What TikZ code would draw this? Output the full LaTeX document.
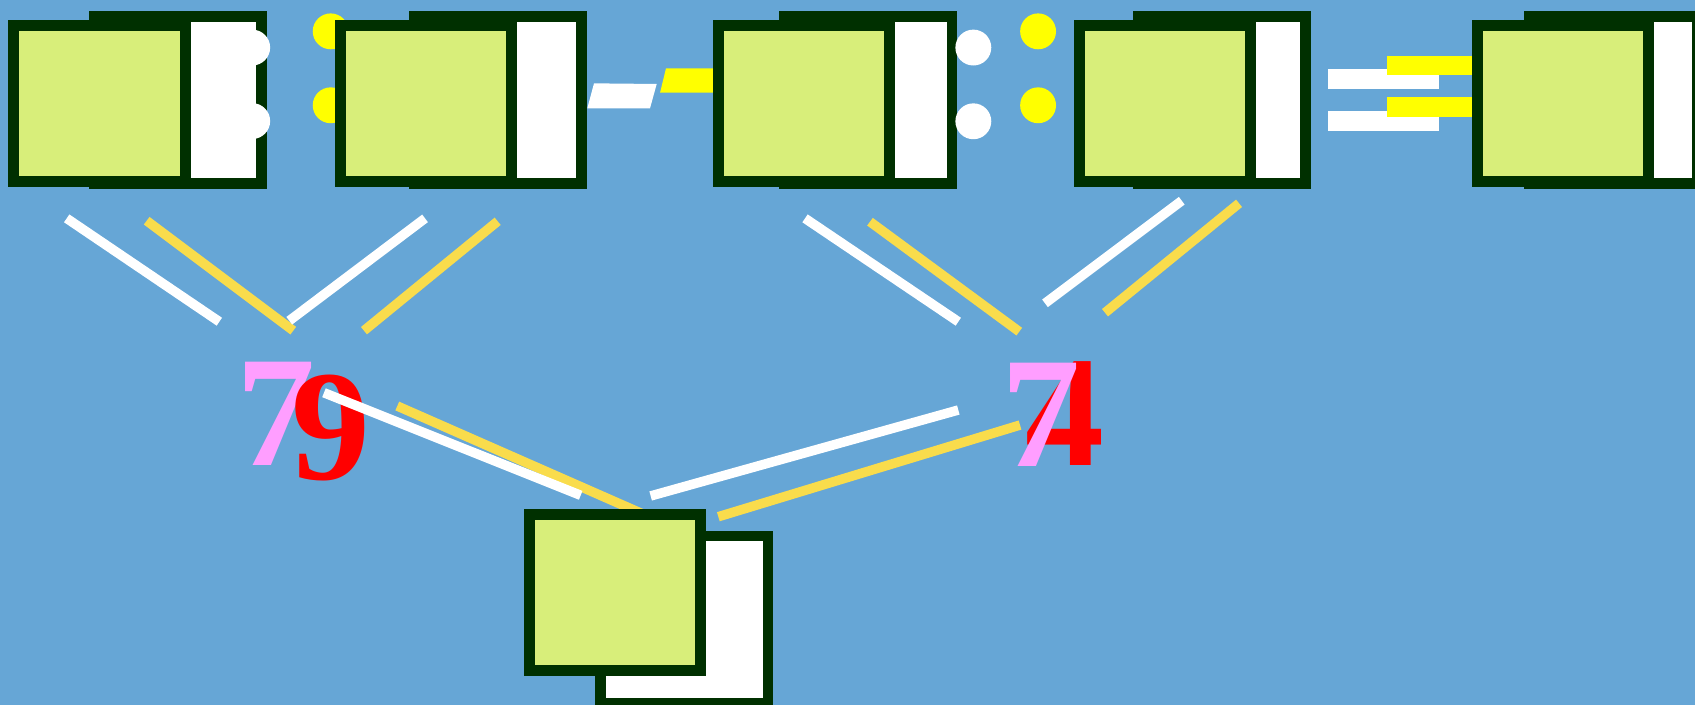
\documentclass[tikz,border=0pt]{standalone}
\usepackage{fontspec}
\setmainfont{Liberation Serif}
\definecolor{sky}{HTML}{66A6D6}
\definecolor{boxline}{HTML}{003000}
\definecolor{boxfill}{HTML}{D8EE7A}
\definecolor{dotyellow}{HTML}{FFFF00}
\definecolor{gold}{HTML}{F9DC4C}
\definecolor{pinkdigit}{HTML}{FF9EFF}
\begin{document}
\begin{tikzpicture}[x=0.5pt, y=-0.5pt,
  front/.style={draw=boxline, line width=5pt, fill=boxfill, minimum width=79.25pt, minimum height=72.35pt, inner sep=0pt},
  back/.style={draw=boxline, line width=5pt, fill=white, minimum width=77.5pt, minimum height=77.25pt, inner sep=0pt},
  dot/.style={circle, inner sep=0pt, minimum size=16.6pt},
  bar/.style={inner sep=0pt, minimum width=51.15pt, minimum height=9.1pt},
  digit/.style={inner sep=0pt, anchor=base west, font=\fontsize{73}{80}\selectfont\bfseries},
  wire/.style={line width=4.4pt, white},
  goldwire/.style={line width=4.4pt, gold}]

  % background
  \fill[sky] (0,0) rectangle (1568,652);
  \useasboundingbox (0,0) rectangle (1568,652);

  % First box and colon
  \node[back] (B1) at (164.6,92.45) {};
  \node[front] (F1) at (92.05,95.85) {};
  \node[dot, fill=white] (c1) at (233.3,44) {};
  \node[dot, fill=white] (c2) at (233.3,112) {};
  \node[dot, fill=dotyellow] (c3) at (305.9,29) {};
  \node[dot, fill=dotyellow] (c4) at (305.9,97.4) {};

  % Second box and dash
  \node[back] (B2) at (460.6,92.45) {};
  \node[front] (F2) at (394.05,95.85) {};
  \fill[white] (543.3,100.2) -- (549.5,77.1) -- (607.5,77.7) -- (601.3,100.2) -- cycle;
  \fill[dotyellow] (610.6,85.7) -- (616.1,63.2) -- (665,63.2) -- (665,85.7) -- cycle;

  % Third box and colon
  \node[back] (B3) at (803.1,92.45) {};
  \node[front] (F3) at (743.95,95.85) {};
  \node[dot, fill=white] (c5) at (900.4,44) {};
  \node[dot, fill=white] (c6) at (900.4,112.2) {};
  \node[dot, fill=dotyellow] (c7) at (960.3,29) {};
  \node[dot, fill=dotyellow] (c8) at (960.3,97.4) {};

  % Fourth box and equals
  \node[back] (B4) at (1130.5,92.45) {};
  \node[front] (F4) at (1077.85,95.85) {};
  \node[bar, fill=white] (e1) at (1279.75,73.2) {};
  \node[bar, fill=white] (e2) at (1279.75,111.8) {};
  \node[bar, fill=dotyellow, minimum width=41pt] (e3) at (1324,60.45) {};
  \node[bar, fill=dotyellow, minimum width=41pt] (e4) at (1324,98.95) {};

  % Fifth box
  \node[back] (B5) at (1492.3,92.45) {};
  \node[front] (F5) at (1445.95,95.85) {};

  % Upper lines
  \coordinate (p1) at (61.7,202);    \coordinate (q1) at (202.9,297.6);
  \coordinate (p2) at (135.7,204.2); \coordinate (q2) at (271.3,305.9);
  \coordinate (p3) at (393.2,202);   \coordinate (q3) at (267.6,296.7);
  \coordinate (p4) at (460.4,204.7); \coordinate (q4) at (336.7,305.9);
  \coordinate (p5) at (744.7,202);   \coordinate (q5) at (886.5,297.6);
  \coordinate (p6) at (804.8,205.1); \coordinate (q6) at (942.9,306.8);
  \coordinate (p7) at (1093.2,185.7); \coordinate (q7) at (966.7,280.6);
  \coordinate (p8) at (1146.2,188.1); \coordinate (q8) at (1022.2,289.3);
  \draw[goldwire] (p2) -- (q2);
  \draw[wire] (p1) -- (q1);
  \draw[wire] (p3) -- (q3);
  \draw[goldwire] (p4) -- (q4);
  \draw[wire] (p5) -- (q5);
  \draw[goldwire] (p6) -- (q6);
  \draw[wire] (p7) -- (q7);
  \draw[goldwire] (p8) -- (q8);

  % Numbers
  \node[digit, pinkdigit] (n1) at (218,430.2) {7};
  \node[digit, red] (n2) at (269.4,444) {9};
  \node[digit, red, anchor=base east] (n3) at (1022,430.2) {4};
  \node[digit, pinkdigit] (n4) at (925.7,431.1) {7};

  % Lower lines
  \coordinate (r1) at (299.7,363.3); \coordinate (s1) at (537.2,458.2);
  \coordinate (r2) at (367.5,375.6); \coordinate (s2) at (600,477.8);
  \coordinate (r3) at (886.5,379.3); \coordinate (s3) at (601.9,458.8);
  \coordinate (r4) at (943.6,393.2); \coordinate (s4) at (664.5,478);
  \draw[goldwire] (r2) -- (s2);
  \draw[wire] (r1) -- (s1);
  \draw[wire] (r3) -- (s3);
  \draw[goldwire] (r4) -- (s4);

  % Bottom box
  \node[back] (B6) at (632.9,573.15) {};
  \node[front] (F6) at (568.95,548.25) {};

\end{tikzpicture}
\end{document}
